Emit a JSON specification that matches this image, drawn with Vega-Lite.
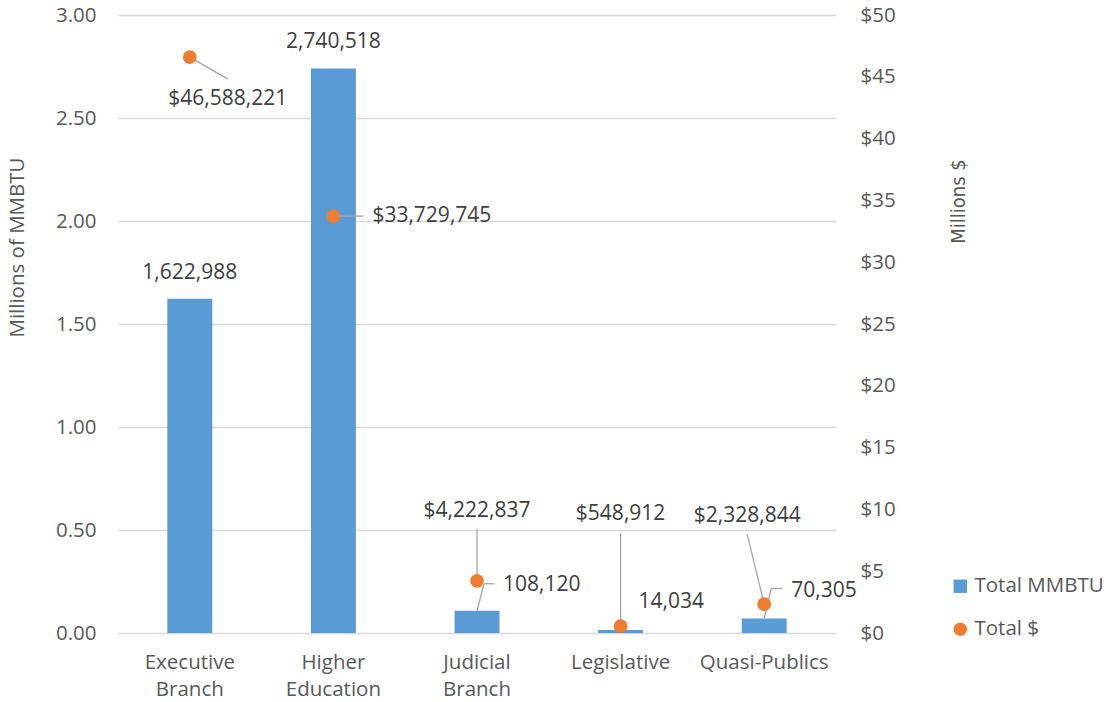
{
  "$schema": "https://vega.github.io/schema/vega-lite/v6.json",
  "width": 718,
  "height": 618,
  "autosize": "none",
  "padding": {"left": 118, "top": 15, "right": 273, "bottom": 69},
  "background": "white",
  "config": {
    "font": "Open Sans",
    "view": {"stroke": null},
    "axis": {"labelFont": "Open Sans", "titleFont": "Open Sans", "labelColor": "#595959", "titleColor": "#595959", "labelFontSize": 20.5, "titleFontSize": 20.5, "titleFontWeight": "normal", "domain": false, "ticks": false},
    "legend": {"labelFont": "Open Sans"}
  },
  "data": {"values": [
    {"Sector": "Executive Branch", "MMBTU": 1622988, "Dollars": 46588221},
    {"Sector": "Higher Education", "MMBTU": 2740518, "Dollars": 33729745},
    {"Sector": "Judicial Branch", "MMBTU": 108120, "Dollars": 4222837},
    {"Sector": "Legislative", "MMBTU": 14034, "Dollars": 548912},
    {"Sector": "Quasi-Publics", "MMBTU": 70305, "Dollars": 2328844}
  ]},
  "encoding": {
    "x": {"field": "Sector", "type": "nominal", "sort": null, "bandPosition": 0.5,
      "scale": {"paddingInner": 0.687, "paddingOuter": 0.3435},
      "axis": {"title": null, "labelAngle": 0, "labelExpr": "split(datum.label, ' ')", "labelLineHeight": 27, "labelPadding": 19, "labelBaseline": "top", "grid": false}}
  },
  "layer": [
    {
      "encoding": {
        "y": {"field": "MMBTU", "type": "quantitative", "scale": {"domain": [0, 3000000], "nice": false},
          "axis": {"orient": "left", "values": [0, 500000, 1000000, 1500000, 2000000, 2500000, 3000000], "labelExpr": "format(datum.value/1000000, '.2f')", "grid": true, "gridColor": "#D9D9D9", "gridWidth": 1.3, "labelPadding": 22, "title": "Millions of MMBTU", "titleX": -101, "titleY": 232, "titleAngle": 270, "titleAlign": "center", "titleBaseline": "middle"}}
      },
      "layer": [
        {
          "mark": {"type": "bar"},
          "encoding": {
            "color": {"datum": "Total MMBTU", "type": "nominal",
              "scale": {"domain": ["Total MMBTU", "Total $"], "range": ["#5B9BD5", "#ED7D31"]},
              "legend": {"orient": "none", "legendX": 832, "legendY": 561, "title": null, "labelFontSize": 20.5, "labelColor": "#595959", "symbolSize": 180, "rowPadding": 22, "labelOffset": 4, "symbolStrokeWidth": 0}}
          }
        },
        {
          "transform": [{"filter": "datum.Sector == 'Judicial Branch'"}],
          "mark": {"type": "rule", "color": "#A6A6A6", "strokeWidth": 1.3, "x2Offset": 7, "y2Offset": -27},
          "encoding": {"x2": {"field": "Sector", "bandPosition": 0.5}, "y2": {"field": "MMBTU"}}
        },
        {
          "transform": [{"filter": "datum.Sector == 'Judicial Branch'"}],
          "mark": {"type": "rule", "color": "#A6A6A6", "strokeWidth": 1.3, "xOffset": 7, "yOffset": -27, "x2Offset": 17, "y2Offset": -27},
          "encoding": {"x2": {"field": "Sector", "bandPosition": 0.5}, "y2": {"field": "MMBTU"}}
        },
        {
          "transform": [{"filter": "datum.Sector == 'Quasi-Publics'"}],
          "mark": {"type": "rule", "color": "#A6A6A6", "strokeWidth": 1.3, "x2Offset": 7, "y2Offset": -30},
          "encoding": {"x2": {"field": "Sector", "bandPosition": 0.5}, "y2": {"field": "MMBTU"}}
        },
        {
          "transform": [{"filter": "datum.Sector == 'Quasi-Publics'"}],
          "mark": {"type": "rule", "color": "#A6A6A6", "strokeWidth": 1.3, "xOffset": 7, "yOffset": -30, "x2Offset": 18, "y2Offset": -30},
          "encoding": {"x2": {"field": "Sector", "bandPosition": 0.5}, "y2": {"field": "MMBTU"}}
        },
        {
          "transform": [{"filter": "datum.Sector == 'Executive Branch' || datum.Sector == 'Higher Education'"}],
          "mark": {"type": "text", "fontSize": 21, "color": "#404040", "baseline": "middle", "align": "center", "dy": -26},
          "encoding": {"text": {"field": "MMBTU", "type": "quantitative", "format": ","}}
        },
        {
          "transform": [{"filter": "datum.Sector == 'Judicial Branch'"}],
          "mark": {"type": "text", "fontSize": 21, "color": "#404040", "baseline": "middle", "align": "left", "dx": 26, "dy": -26},
          "encoding": {"text": {"field": "MMBTU", "type": "quantitative", "format": ","}}
        },
        {
          "transform": [{"filter": "datum.Sector == 'Legislative'"}],
          "mark": {"type": "text", "fontSize": 21, "color": "#404040", "baseline": "middle", "align": "left", "dx": 18, "dy": -28},
          "encoding": {"text": {"field": "MMBTU", "type": "quantitative", "format": ","}}
        },
        {
          "transform": [{"filter": "datum.Sector == 'Quasi-Publics'"}],
          "mark": {"type": "text", "fontSize": 21, "color": "#404040", "baseline": "middle", "align": "left", "dx": 27, "dy": -28},
          "encoding": {"text": {"field": "MMBTU", "type": "quantitative", "format": ","}}
        }
      ]
    },
    {
      "encoding": {
        "y": {"field": "Dollars", "type": "quantitative", "scale": {"domain": [0, 50000000], "nice": false},
          "axis": {"orient": "right", "values": [0, 5000000, 10000000, 15000000, 20000000, 25000000, 30000000, 35000000, 40000000, 45000000, 50000000], "labelExpr": "'$' + format(datum.value/1000000, 'd')", "grid": false, "labelPadding": 24, "title": "Millions $", "titleFont": "'DejaVu Sans Condensed', 'Open Sans', sans-serif", "titleFontSize": 20, "titleX": 122, "titleY": 186, "titleAngle": 270, "titleAlign": "center", "titleBaseline": "middle"}}
      },
      "layer": [
        {
          "transform": [{"filter": "datum.Sector == 'Executive Branch'"}],
          "mark": {"type": "rule", "color": "#A6A6A6", "strokeWidth": 1.3, "x2Offset": 38, "y2Offset": 22},
          "encoding": {"x2": {"field": "Sector", "bandPosition": 0.5}, "y2": {"field": "Dollars"}}
        },
        {
          "transform": [{"filter": "datum.Sector == 'Higher Education'"}],
          "mark": {"type": "rule", "color": "#A6A6A6", "strokeWidth": 1.3, "x2Offset": 30, "y2Offset": 0},
          "encoding": {"x2": {"field": "Sector", "bandPosition": 0.5}, "y2": {"field": "Dollars"}}
        },
        {
          "transform": [{"filter": "datum.Sector == 'Judicial Branch'"}],
          "mark": {"type": "rule", "color": "#A6A6A6", "strokeWidth": 1.3, "x2Offset": 0, "y2Offset": -52},
          "encoding": {"x2": {"field": "Sector", "bandPosition": 0.5}, "y2": {"field": "Dollars"}}
        },
        {
          "transform": [{"filter": "datum.Sector == 'Legislative'"}],
          "mark": {"type": "rule", "color": "#A6A6A6", "strokeWidth": 1.3, "x2Offset": 0, "y2Offset": -93},
          "encoding": {"x2": {"field": "Sector", "bandPosition": 0.5}, "y2": {"field": "Dollars"}}
        },
        {
          "transform": [{"filter": "datum.Sector == 'Quasi-Publics'"}],
          "mark": {"type": "rule", "color": "#A6A6A6", "strokeWidth": 1.3, "x2Offset": -17, "y2Offset": -70},
          "encoding": {"x2": {"field": "Sector", "bandPosition": 0.5}, "y2": {"field": "Dollars"}}
        },
        {
          "mark": {"type": "point", "filled": true, "size": 190, "opacity": 1},
          "encoding": {
            "color": {"datum": "Total $", "type": "nominal",
              "scale": {"domain": ["Total MMBTU", "Total $"], "range": ["#5B9BD5", "#ED7D31"]}},
            "shape": {"datum": "Total $", "type": "nominal",
              "scale": {"domain": ["Total MMBTU", "Total $"], "range": ["square", "circle"]},
              "legend": {"orient": "none", "legendX": 832, "legendY": 561, "title": null, "labelFontSize": 20.5, "labelColor": "#595959", "symbolSize": 180, "rowPadding": 22, "labelOffset": 4, "symbolStrokeWidth": 0}}
          }
        },
        {
          "transform": [{"filter": "datum.Sector == 'Executive Branch'"}],
          "mark": {"type": "text", "fontSize": 21, "color": "#404040", "baseline": "middle", "align": "center", "dx": 38, "dy": 42},
          "encoding": {"text": {"field": "Dollars", "type": "quantitative", "format": "$,"}}
        },
        {
          "transform": [{"filter": "datum.Sector == 'Higher Education'"}],
          "mark": {"type": "text", "fontSize": 21, "color": "#404040", "baseline": "middle", "align": "left", "dx": 39, "dy": 0},
          "encoding": {"text": {"field": "Dollars", "type": "quantitative", "format": "$,"}}
        },
        {
          "transform": [{"filter": "datum.Sector == 'Judicial Branch'"}],
          "mark": {"type": "text", "fontSize": 21, "color": "#404040", "baseline": "middle", "align": "center", "dx": 0, "dy": -70},
          "encoding": {"text": {"field": "Dollars", "type": "quantitative", "format": "$,"}}
        },
        {
          "transform": [{"filter": "datum.Sector == 'Legislative'"}],
          "mark": {"type": "text", "fontSize": 21, "color": "#404040", "baseline": "middle", "align": "center", "dx": 0, "dy": -112},
          "encoding": {"text": {"field": "Dollars", "type": "quantitative", "format": "$,"}}
        },
        {
          "transform": [{"filter": "datum.Sector == 'Quasi-Publics'"}],
          "mark": {"type": "text", "fontSize": 21, "color": "#404040", "baseline": "middle", "align": "center", "dx": -17, "dy": -88},
          "encoding": {"text": {"field": "Dollars", "type": "quantitative", "format": "$,"}}
        }
      ]
    }
  ],
  "resolve": {"scale": {"y": "independent"}, "axis": {"y": "independent"}}
}
